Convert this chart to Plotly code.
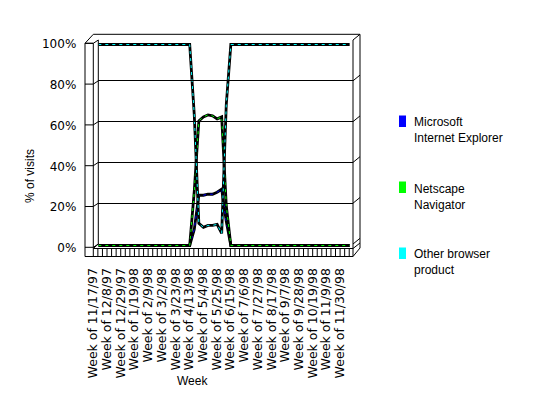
import plotly.graph_objects as go

# page body has an 8px margin; the figure is sized to end at the window edge
PAGE_OFF = 8
W, H = 540, 390

weeks = [
    "11/17/97", "11/24/97", "12/1/97", "12/8/97", "12/15/97", "12/22/97", "12/29/97",
    "1/5/98", "1/12/98", "1/19/98", "1/26/98", "2/2/98", "2/9/98", "2/16/98", "2/23/98",
    "3/2/98", "3/9/98", "3/16/98", "3/23/98", "3/30/98", "4/6/98", "4/13/98", "4/20/98",
    "4/27/98", "5/4/98", "5/11/98", "5/18/98", "5/25/98", "6/1/98", "6/8/98", "6/15/98",
    "6/22/98", "6/29/98", "7/6/98", "7/13/98", "7/20/98", "7/27/98", "8/3/98", "8/10/98",
    "8/17/98", "8/24/98", "8/31/98", "9/7/98", "9/14/98", "9/21/98", "9/28/98", "10/5/98",
    "10/12/98", "10/19/98", "10/26/98", "11/2/98", "11/9/98", "11/16/98", "11/23/98",
    "11/30/98", "12/7/98",
]

tick_weeks = [
    "11/17/97", "12/8/97", "12/29/97", "1/19/98", "2/9/98", "3/2/98", "3/23/98",
    "4/13/98", "5/4/98", "5/25/98", "6/15/98", "7/6/98", "7/27/98", "8/17/98",
    "9/7/98", "9/28/98", "10/19/98", "11/9/98", "11/30/98",
]

ie = [
    0, 0, 0, 0, 0, 0, 0, 0, 0, 0, 0, 0, 0, 0, 0, 0, 0, 0, 0, 0, 0,
    8, 25, 25, 25.5, 25.5, 26.5, 28, 12,
    0, 0, 0, 0, 0, 0, 0, 0, 0, 0, 0, 0, 0, 0, 0, 0, 0, 0, 0, 0, 0, 0, 0, 0, 0, 0, 0,
]
netscape = [
    0, 0, 0, 0, 0, 0, 0, 0, 0, 0, 0, 0, 0, 0, 0, 0, 0, 0, 0, 0, 0,
    27, 62, 64, 65, 64.5, 63, 64, 20,
    0, 0, 0, 0, 0, 0, 0, 0, 0, 0, 0, 0, 0, 0, 0, 0, 0, 0, 0, 0, 0, 0, 0, 0, 0, 0, 0,
]
other = [
    100, 100, 100, 100, 100, 100, 100, 100, 100, 100, 100, 100, 100, 100, 100, 100, 100,
    100, 100, 100, 100,
    65, 11, 9, 10, 10, 10.5, 6, 70,
    100, 100, 100, 100, 100, 100, 100, 100, 100, 100, 100, 100, 100, 100, 100, 100, 100,
    100, 100, 100, 100, 100, 100, 100, 100, 100, 100, 100,
]

series_names = ["Microsoft Internet Explorer", "Netscape Navigator", "Other browser product"]
legend_text = ["Microsoft<br>Internet Explorer", "Netscape<br>Navigator", "Other browser<br>product"]
series_values = [ie, netscape, other]
colors = ["#0000FF", "#00FF00", "#00FFFF"]
y_ticks = [0, 20, 40, 60, 80, 100]
y_tick_text = ["0%", "20%", "40%", "60%", "80%", "100%"]


def fx(p):
    return (p - PAGE_OFF) / W


def fy(p):
    return 1 - (p - PAGE_OFF) / H


# geometry in window pixels
BX0, BX1 = 98.3, 353.0      # back wall left/right
GY0, GY100 = 244.0, 40.0    # gridline y for 0 and 100
STEP = 4.57                 # px per week
FX0 = 93.3                  # front face left
OX0, OX1 = 85.0, 360.0      # outer box
TOP = 34.3
FLOOR_T, FLOOR_B = 248.5, 256.5

fig = go.Figure()

# invisible carrier trace so the gridline/label axis gets its own subplot drawn
fig.add_trace(go.Scatter(x=[weeks[0]], y=[0], xaxis="x", yaxis="y2", mode="markers",
                         marker=dict(opacity=0), showlegend=False, hoverinfo="skip"))

for name, vals, col in zip(series_names, series_values, colors):
    fig.add_trace(go.Scatter(x=weeks, y=vals, mode="lines", xaxis="x", yaxis="y",
                             line=dict(color="black", width=2.8), showlegend=False,
                             hoverinfo="skip"))
    fig.add_trace(go.Scatter(x=weeks, y=vals, mode="lines", xaxis="x", yaxis="y",
                             name=name, line=dict(color=col, width=1, dash="3px,4px"),
                             showlegend=False))

shapes = []


def line(x0, y0, x1, y1, w=1):
    shapes.append(dict(type="line", xref="paper", yref="paper",
                       x0=fx(x0), y0=fy(y0), x1=fx(x1), y1=fy(y1),
                       line=dict(color="black", width=w)))


# outer box
line(OX0, 43.3, FX0, TOP)
line(FX0, TOP, OX1, TOP)
line(OX1, TOP, OX1, 248)
line(BX1, FLOOR_B, OX1, 248)
line(OX0, 43.3, OX0, FLOOR_B)
line(FX0, 43.3, FX0, FLOOR_T)
line(OX0, 43.3, FX0, 43.3)
line(OX0, FLOOR_B, BX1, FLOOR_B)
line(FX0, FLOOR_T, BX1, FLOOR_T)
line(BX1, GY100, BX1, FLOOR_B)
line(BX0, GY100, BX0, GY0)
line(FX0, FLOOR_T, BX0, GY0)
line(BX1, FLOOR_T, OX1, GY0 - 1)
# gridline extensions on left and right walls
for v in y_ticks:
    gy = GY0 + (GY100 - GY0) * v / 100
    line(OX0, gy + 3.3, FX0, gy + 3.3)
    line(FX0, gy + 3.3, BX0, gy)
    line(BX1, gy, OX1, gy - 5.7)
# floor front-face category separators
for k in range(len(weeks) + 1):
    xx = FX0 + k * STEP
    if xx <= BX1:
        line(xx, FLOOR_T, xx, FLOOR_B)

# legend
annotations = []
leg_sq_y = [115.5, 181.5, 247.5]
for txt, col, sy in zip(legend_text, colors, leg_sq_y):
    shapes.append(dict(type="rect", xref="paper", yref="paper",
                       x0=fx(399), x1=fx(406), y0=fy(sy), y1=fy(sy + 11.5),
                       fillcolor=col, line=dict(width=0)))
    annotations.append(dict(text=txt, xref="paper", yref="paper", x=fx(412),
                            y=fy(sy - 2), xanchor="left", yanchor="top", showarrow=False,
                            align="left",
                            font=dict(family="Liberation Sans, Arial", size=12, color="black")))

annotations.append(dict(text="% of visits", xref="paper", yref="paper", x=fx(30), y=fy(176),
                        textangle=-90, showarrow=False, xanchor="center", yanchor="middle",
                        font=dict(family="Liberation Sans, Arial", size=12, color="black")))
annotations.append(dict(text="Week", xref="paper", yref="paper", x=fx(192), y=fy(381),
                        showarrow=False, xanchor="center", yanchor="middle",
                        font=dict(family="Liberation Sans, Arial", size=12, color="black")))

x_range_max = (BX1 - BX0) / STEP

fig.update_layout(
    width=W, height=H,
    margin=dict(l=0, r=0, t=0, b=0, autoexpand=False),
    paper_bgcolor="white", plot_bgcolor="rgba(0,0,0,0)",
    showlegend=False,
    xaxis=dict(type="category", categoryorder="array", categoryarray=weeks,
               domain=[fx(BX0), fx(BX1)], range=[0, x_range_max], anchor="y",
               automargin=False,
               showgrid=False, zeroline=False, showline=False, ticks="",
               tickmode="array", tickvals=tick_weeks,
               ticktext=["Week of " + w for w in tick_weeks],
               tickangle=-90, ticklabelshift=-5, ticklabelstandoff=15,
               tickfont=dict(family="DejaVu Sans", size=12.5, color="black")),
    yaxis=dict(domain=[fy(249.5), fy(40.5)], range=[-2, 102], anchor="x",
               automargin=False, visible=False, showgrid=False, zeroline=False),
    yaxis2=dict(domain=[fy(GY0), fy(GY100)], range=[0, 100], anchor="x",
                automargin=False, layer="below traces",
                showgrid=True, gridcolor="black", gridwidth=1, zeroline=False,
                showline=False, ticks="", tickmode="array", tickvals=y_ticks,
                ticktext=y_tick_text, ticklabelshift=4, ticklabelstandoff=21,
                tickfont=dict(family="DejaVu Sans", size=12, color="black")),
    shapes=shapes,
    annotations=annotations,
)

fig.write_html("out.html")
